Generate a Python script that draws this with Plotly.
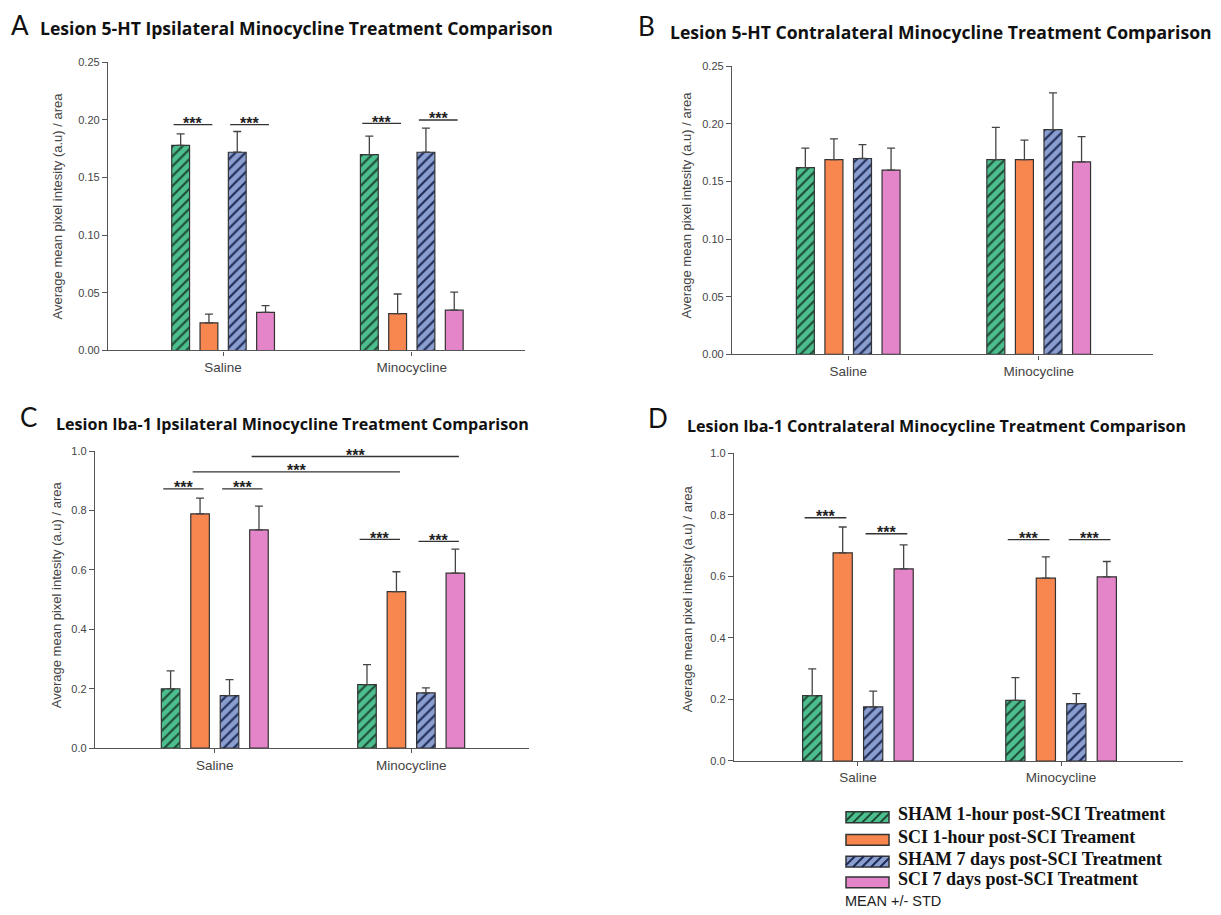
import plotly.graph_objects as go

W, H = 1221, 915
OFF = 8  # default page body margin
FW, FH = W - OFF, H - OFF

# ---------------- data ----------------
categories = ["Saline", "Minocycline"]
series_names = [
    "SHAM 1-hour post-SCI Treatment",
    "SCI 1-hour post-SCI Treament",
    "SHAM 7 days post-SCI Treatment",
    "SCI 7 days post-SCI Treatment",
]

# Panel A: Lesion 5-HT Ipsilateral
a_sham1 = [0.178, 0.170]
a_sci1 = [0.024, 0.032]
a_sham7 = [0.172, 0.172]
a_sci7 = [0.033, 0.035]
a_sham1_std = [0.010, 0.016]
a_sci1_std = [0.0076, 0.017]
a_sham7_std = [0.018, 0.021]
a_sci7_std = [0.006, 0.0157]

# Panel B: Lesion 5-HT Contralateral
b_sham1 = [0.162, 0.169]
b_sci1 = [0.169, 0.169]
b_sham7 = [0.170, 0.195]
b_sci7 = [0.160, 0.167]
b_sham1_std = [0.017, 0.028]
b_sci1_std = [0.018, 0.017]
b_sham7_std = [0.012, 0.032]
b_sci7_std = [0.019, 0.022]

# Panel C: Lesion Iba-1 Ipsilateral
c_sham1 = [0.200, 0.214]
c_sci1 = [0.789, 0.527]
c_sham7 = [0.177, 0.186]
c_sci7 = [0.735, 0.589]
c_sham1_std = [0.060, 0.067]
c_sci1_std = [0.053, 0.067]
c_sham7_std = [0.054, 0.017]
c_sci7_std = [0.080, 0.081]

# Panel D: Lesion Iba-1 Contralateral
d_sham1 = [0.212, 0.197]
d_sci1 = [0.676, 0.594]
d_sham7 = [0.176, 0.186]
d_sci7 = [0.624, 0.598]
d_sham1_std = [0.087, 0.074]
d_sci1_std = [0.084, 0.069]
d_sham7_std = [0.051, 0.033]
d_sci7_std = [0.078, 0.050]

# significance brackets: (category_i, bar_i, category_j, bar_j, y level)
a_sig = [(0, 0, 0, 1, 0.196), (0, 2, 0, 3, 0.196), (1, 0, 1, 1, 0.197), (1, 2, 1, 3, 0.200)]
b_sig = []
c_sig = [(0, 0, 0, 1, 0.873), (0, 2, 0, 3, 0.873), (1, 0, 1, 1, 0.703), (1, 2, 1, 3, 0.696),
         (0, 1, 1, 1, 0.930), (0, 3, 1, 3, 0.982)]
d_sig = [(0, 0, 0, 1, 0.790), (0, 2, 0, 3, 0.738), (1, 0, 1, 1, 0.719), (1, 2, 1, 3, 0.719)]

panel_titles = [
    "Lesion 5-HT Ipsilateral Minocycline Treatment Comparison",
    "Lesion 5-HT Contralateral Minocycline Treatment Comparison",
    "Lesion Iba-1 Ipsilateral Minocycline Treatment Comparison",
    "Lesion Iba-1 Contralateral Minocycline Treatment Comparison",
]
panel_letters = ["A", "B", "C", "D"]
y_title = "Average mean pixel intesity (a.u) / area"
note_text = "MEAN +/- STD"

# ---------------- styling ----------------
fill_colors = ["#4dbf8e", "#f8864f", "#8a9fd0", "#e385c8"]
hatch_colors = ["#1d4a36", None, "#1e2a55", None]
line_col = "#333333"
axis_col = "#555555"
text_col = "#444444"
SANS = "Liberation Sans, Arial, sans-serif"
TITLE_FONT = "Open Sans, Liberation Sans, Arial, sans-serif"
SERIF = "Liberation Serif, Times New Roman, serif"

BARGAP = 0.4
BARGROUPGAP = 0.37
SLOT = (1 - BARGAP) / 4
XR = [-0.61, 1.60]


def px(x):
    return (x - OFF) / FW


def py(y):
    return 1 - (y - OFF) / FH


panels = [
    dict(means=[a_sham1, a_sci1, a_sham7, a_sci7], stds=[a_sham1_std, a_sci1_std, a_sham7_std, a_sci7_std],
         sig=a_sig, yr=[0, 0.25], dtick=0.05, fmt=".2f", tsize=17.6,
         box=(108, 525, 57, 349), title_xy=(38, 22), letter_xy=(9, 19), ytitle_xy=(57, 203)),
    dict(means=[b_sham1, b_sci1, b_sham7, b_sci7], stds=[b_sham1_std, b_sci1_std, b_sham7_std, b_sci7_std],
         sig=b_sig, yr=[0, 0.25], dtick=0.05, fmt=".2f", tsize=17.6,
         box=(732, 1153, 61, 353), title_xy=(668, 26), letter_xy=(636, 20), ytitle_xy=(686, 201)),
    dict(means=[c_sham1, c_sci1, c_sham7, c_sci7], stds=[c_sham1_std, c_sci1_std, c_sham7_std, c_sci7_std],
         sig=c_sig, yr=[0, 1.0], dtick=0.2, fmt=".1f", tsize=16.1,
         box=(95, 529, 451, 752), title_xy=(54, 423), letter_xy=(18, 416), ytitle_xy=(56, 597)),
    dict(means=[d_sham1, d_sci1, d_sham7, d_sci7], stds=[d_sham1_std, d_sci1_std, d_sham7_std, d_sci7_std],
         sig=d_sig, yr=[0, 1.0], dtick=0.2, fmt=".1f", tsize=16.1,
         box=(734, 1183, 453, 765), title_xy=(685, 426), letter_xy=(646, 417), ytitle_xy=(687, 601)),
]

fig = go.Figure()
shapes = []
annotations = []
xcat = list(range(len(categories)))

for p_i, p in enumerate(panels):
    n = p_i + 1
    xa = "x" if n == 1 else f"x{n}"
    ya = "y" if n == 1 else f"y{n}"
    for s_i in range(4):
        pattern = dict(shape="")
        if hatch_colors[s_i]:
            pattern = dict(shape="/", fgcolor=hatch_colors[s_i], bgcolor=fill_colors[s_i],
                           size=7, solidity=0.3, fgopacity=1)
        fig.add_trace(go.Bar(
            x=xcat, y=p["means"][s_i], name=series_names[s_i], xaxis=xa, yaxis=ya,
            showlegend=False, offsetgroup=str(s_i),
            marker=dict(color=fill_colors[s_i], line=dict(color=line_col, width=1.2), pattern=pattern),
            error_y=dict(type="data", symmetric=False, array=p["stds"][s_i],
                         arrayminus=[0] * len(categories), color="#444444", thickness=1.3, width=4),
            hoverinfo="skip",
        ))
    x0, x1, y0, y1 = p["box"]
    lay_x = dict(domain=[px(x0), px(x1)], range=XR, tickvals=xcat, ticktext=categories,
                 showline=True, linecolor=axis_col, linewidth=1.3, ticks="outside", ticklen=4,
                 tickcolor=axis_col, tickfont=dict(family=SANS, size=13.5, color=text_col),
                 showgrid=False, zeroline=False, anchor=ya, fixedrange=True)
    lay_y = dict(domain=[py(y1), py(y0)], range=p["yr"], dtick=p["dtick"], tick0=0, tickformat=p["fmt"],
                 showline=True, linecolor=axis_col, linewidth=1.3, ticks="outside", ticklen=5,
                 tickcolor=axis_col, tickfont=dict(family=SANS, size=11, color=text_col),
                 showgrid=False, zeroline=False, anchor=xa, fixedrange=True)
    fig.update_layout(**{("xaxis" if n == 1 else f"xaxis{n}"): lay_x,
                         ("yaxis" if n == 1 else f"yaxis{n}"): lay_y})

    # significance brackets
    for (ci, bi, cj, bj, yv) in p["sig"]:
        xs = ci + (bi - 1.5) * SLOT - 0.25 * SLOT
        xe = cj + (bj - 1.5) * SLOT + 0.12 * SLOT
        shapes.append(dict(type="line", xref=xa, yref=ya, x0=xs, x1=xe, y0=yv, y1=yv,
                           line=dict(color=line_col, width=1.3)))
        annotations.append(dict(xref=xa, yref=ya, x=(xs + xe) / 2, y=yv, text="<b>***</b>", showarrow=False,
                                yanchor="middle", yshift=1,
                                font=dict(family=SANS, size=16, color="#222222")))

    # titles, letters, y titles
    tx, ty = p["title_xy"]
    annotations.append(dict(xref="paper", yref="paper", x=px(tx), y=py(ty), xanchor="left", yanchor="middle",
                            text=f"<b>{panel_titles[p_i]}</b>", showarrow=False,
                            font=dict(family=TITLE_FONT, size=p["tsize"], color="#111111")))
    lx, ly = p["letter_xy"]
    annotations.append(dict(xref="paper", yref="paper", x=px(lx), y=py(ly), xanchor="left", yanchor="middle",
                            text=panel_letters[p_i], showarrow=False,
                            font=dict(family="Lato, DejaVu Sans, sans-serif", size=26, color="#111111")))
    yx, yy = p["ytitle_xy"]
    annotations.append(dict(xref="paper", yref="paper", x=px(yx), y=py(yy), xanchor="center", yanchor="middle",
                            text=y_title, textangle=-90, showarrow=False,
                            font=dict(family=SANS, size=13, color=text_col)))


# ---------------- custom legend ----------------
def hatch_path(x0, y0, x1, y1, step):
    h = y1 - y0
    segs = []
    c = x0 - h
    while c < x1:
        t0 = max(0, x0 - c)
        t1 = min(h, x1 - c)
        if t1 > t0:
            segs.append(f"M{px(c + t0):.5f},{py(y1 - t0):.5f}L{px(c + t1):.5f},{py(y1 - t1):.5f}")
        c += step
    return "".join(segs)


leg_x0, leg_x1 = 846, 889
leg_rows = [822, 845, 867, 888]
for s_i, yc in enumerate(leg_rows):
    ya0, ya1 = yc - 5.5, yc + 5.5
    shapes.append(dict(type="rect", xref="paper", yref="paper", x0=px(leg_x0), x1=px(leg_x1),
                       y0=py(ya1), y1=py(ya0), fillcolor=fill_colors[s_i],
                       line=dict(color=line_col, width=1.5)))
    if hatch_colors[s_i]:
        shapes.append(dict(type="path", xref="paper", yref="paper",
                           path=hatch_path(leg_x0, ya0, leg_x1, ya1, 9),
                           line=dict(color=hatch_colors[s_i], width=2)))
    annotations.append(dict(xref="paper", yref="paper", x=px(896), y=py(yc - 3), xanchor="left",
                            yanchor="middle", text=f"<b>{series_names[s_i]}</b>", showarrow=False,
                            font=dict(family=SERIF, size=18, color="#111111")))
annotations.append(dict(xref="paper", yref="paper", x=px(843), y=py(907), xanchor="left", yanchor="middle",
                        text=note_text, showarrow=False, font=dict(family=SANS, size=14.5, color="#222222")))

fig.update_layout(
    width=FW, height=FH, margin=dict(l=0, r=0, t=0, b=0),
    paper_bgcolor="white", plot_bgcolor="white",
    barmode="group", bargap=BARGAP, bargroupgap=BARGROUPGAP,
    shapes=shapes, annotations=annotations, showlegend=False,
)

fig.write_html("out.html")
